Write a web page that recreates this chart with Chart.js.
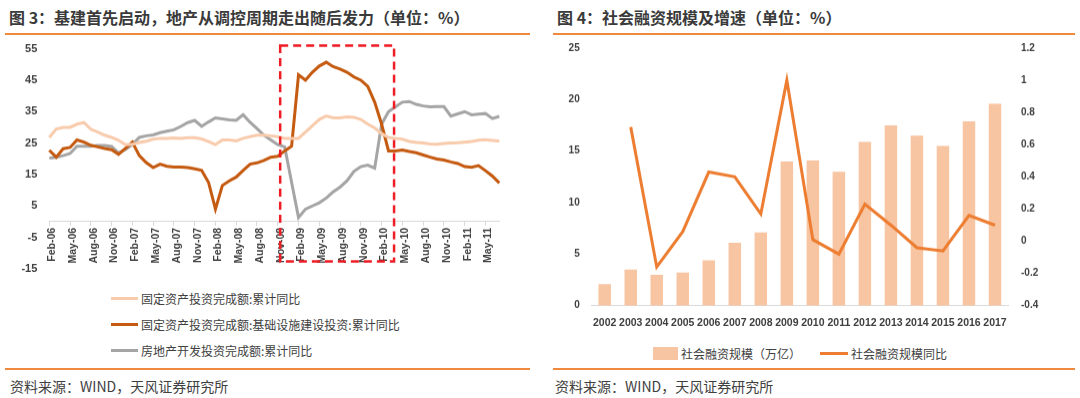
<!DOCTYPE html>
<html>
<head>
<meta charset="utf-8">
<script src="https://cdn.jsdelivr.net/npm/chart.js@4.4.0/dist/chart.umd.min.js"></script>
<style>
  body { margin: 0; width: 1080px; height: 398px; background: #fff; position: relative; overflow: hidden;
         font-family: "Noto Sans CJK SC", "Noto Sans", sans-serif; color: #404040; }
  .title { position: absolute; top: 5px; font-size: 16px; font-weight: bold; color: #3a3a3a; white-space: nowrap; }
  .rule { position: absolute; height: 2px; background: #f0883e; }
  .src { position: absolute; top: 376px; font-size: 14px; color: #404040; white-space: nowrap; }
  .box { position: absolute; }
  .leg { position: absolute; font-size: 12px; color: #404040; white-space: nowrap; display: flex; align-items: center; height: 16px; }
  .leg i { display: inline-block; margin-right: 3px; }
</style>
</head>
<body>
<div class="title" style="left:9px">图 3：基建首先启动，地产从调控周期走出随后发力（单位：%）</div>
<div class="title" style="left:557px">图 4：社会融资规模及增速（单位：%）</div>
<div class="rule" style="left:5px;width:525px;top:33px"></div>
<div class="rule" style="left:553px;width:522px;top:33px"></div>

<div class="box" style="left:0;top:30.4px;width:530px;height:256.5px"><canvas id="left"></canvas></div>
<div class="box" style="left:540px;top:29.3px;width:540px;height:305.7px"><canvas id="right"></canvas></div>

<div id="legLeft"></div>
<div id="legRight"></div>

<div class="rule" style="left:5px;width:525px;top:368px"></div>
<div class="rule" style="left:553px;width:522px;top:368px"></div>
<div class="src" style="left:10px">资料来源：WIND，天风证券研究所</div>
<div class="src" style="left:555px">资料来源：WIND，天风证券研究所</div>

<script>
// ---- Figure 3: monthly cumulative YoY, Feb-06 .. Jul-11 ----
const monthNames = ['Jan', 'Feb', 'Mar', 'Apr', 'May', 'Jun', 'Jul', 'Aug', 'Sep', 'Oct', 'Nov', 'Dec'];

const fixedAssetYoY = [
  26.8, 29.5, 30, 30, 31, 31.5, 29.4, 28.5, 27.5, 26.8, 25.9, 24.5,
  24.6, 25.2, 25.6, 26.2, 26.5, 26.5, 26.6, 26.5, 26.7, 26.7, 26.3, 25.5,
  24.5, 26, 26, 25.7, 26.5, 27, 27.5, 27.5, 27.3, 27, 26.5, 26.5,
  26.5, 28.5, 30.5, 32.5, 33.6, 33, 33, 33.3, 33.2, 32.5, 31, 29.8,
  28, 26.8, 26.5, 26.2, 25.5, 25.2, 25, 24.7, 24.6, 24.9, 25, 25.1,
  25.3, 25.5, 25.9, 26.1, 25.8, 25.7
];
const infraYoY = [
  22.7, 20.5, 23.2, 23.6, 26, 25.3, 24.3, 23.8, 23.3, 22.9, 21.4, 23.3,
  25.3, 21, 18.8, 17.2, 18.3, 17.6, 17.4, 17.4, 17.2, 16.8, 16.3, 12.5,
  4, 11.5, 13, 14.2, 16.3, 18.3, 18.7, 19.5, 20.5, 20.8, 22.5, 24,
  46.7, 45, 47.5, 49.5, 50.7, 49.3, 48.5, 47.5, 46, 45, 43, 38,
  31, 22.5, 22.5, 22.8, 22.3, 21.9, 21.2, 20.5, 19.9, 19.6, 19, 18.5,
  17.5, 17.3, 17.8, 16.2, 14.5, 12.3
];
const realEstateYoY = [
  20.2, 20.5, 21, 21.7, 24, 24, 24, 24.2, 24.2, 23.9, 21.8, 23,
  24.5, 26.8, 27.3, 27.6, 28.3, 28.8, 29.2, 30.3, 31.5, 32.2, 30.3, 31.7,
  33, 32.7, 32.4, 32.2, 34, 31.6, 29.6, 27.5, 26, 24.5, 23.8, 12.5,
  1.3, 4, 5, 6, 7.5, 9.5, 11, 13, 16, 17.5, 18, 17,
  31, 35, 36.5, 38, 38.2, 37.3, 36.8, 36.5, 36.6, 36.6, 33.6, 34.3,
  35, 34, 34.2, 34.4, 32.8, 33.5
];
const leftTicks = [-15, 55, 10]; // min, max, step

// ---- Figure 4: annual ----
const years = ['2002', '2003', '2004', '2005', '2006', '2007', '2008', '2009',
               '2010', '2011', '2012', '2013', '2014', '2015', '2016', '2017'];
const tsfScale = [2.1, 3.5, 3.0, 3.2, 4.4, 6.1, 7.1, 14.0, 14.1, 13.0, 15.9, 17.5, 16.5, 15.5, 17.9, 19.6];
const tsfGrowth = [null, 0.71, -0.16, 0.06, 0.43, 0.40, 0.17, 1.0, 0.01, -0.08, 0.23, 0.10, -0.04, -0.06, 0.16, 0.10];

// month labels Feb-06 onwards
const monthLabels = [];
for (let k = 0; k < fixedAssetYoY.length; k++) {
  const m = (1 + k) % 12;
  const y = 2006 + Math.floor((1 + k) / 12);
  monthLabels.push(monthNames[m] + '-' + String(y).slice(2));
}

Chart.defaults.font.family = '"Liberation Sans", Arial, sans-serif';
Chart.defaults.font.weight = 'bold';
Chart.defaults.color = '#404040';
Chart.defaults.animation = false;

const leftSeries = [
  { label: '固定资产投资完成额:累计同比', data: fixedAssetYoY, color: '#f8cbad' },
  { label: '固定资产投资完成额:基础设施建设投资:累计同比', data: infraYoY, color: '#c55a11' },
  { label: '房地产开发投资完成额:累计同比', data: realEstateYoY, color: '#a5a5a5' }
];

// red dashed frame around the 2009 stimulus period (in data units)
const frameBox = {
  id: 'frameBox',
  afterDraw(chart) {
    const { ctx, scales: { x, y } } = chart;
    const l = x.getPixelForValue(33.35), r = x.getPixelForValue(49.8);
    const t = y.getPixelForValue(56), b = y.getPixelForValue(-12.6);
    ctx.save();
    ctx.strokeStyle = '#ee1c25';
    ctx.lineWidth = 2.5;
    ctx.setLineDash([8, 5]);
    ctx.strokeRect(l, t, r - l, b - t);
    ctx.restore();
  }
};

new Chart(document.getElementById('left'), {
  type: 'line',
  data: {
    labels: monthLabels,
    datasets: leftSeries.map(s => ({
      label: s.label,
      data: s.data,
      borderColor: s.color,
      backgroundColor: s.color,
      borderWidth: 3,
      pointRadius: 0,
      tension: 0
    }))
  },
  options: {
    responsive: true,
    maintainAspectRatio: false,
    layout: { padding: { top: 0, bottom: 0, left: 9.3, right: 30.7 } },
    plugins: { legend: { display: false }, tooltip: { enabled: false } },
    scales: {
      x: {
        position: { y: 0 },
        offset: false,
        border: { display: true, color: '#d9d9d9', width: 1 },
        grid: { display: true, drawOnChartArea: false, drawTicks: true, tickLength: 4, color: '#d9d9d9' },
        ticks: {
          autoSkip: false, maxRotation: 90, minRotation: 90, padding: 2, labelOffset: 3,
          font: { size: 10.5 },
          callback: (v, i) => (i % 3 === 0 ? monthLabels[i] : null)
        }
      },
      y: {
        min: leftTicks[0], max: leftTicks[1],
        border: { display: false },
        grid: { display: false, drawTicks: false },
        ticks: { stepSize: leftTicks[2], padding: 12, font: { size: 11 } },
        afterFit: (s) => { s.width = 40; }
      }
    }
  },
  plugins: [frameBox]
});

// left legend (stacked)
const legLeft = document.getElementById('legLeft');
leftSeries.forEach((s, i) => {
  const d = document.createElement('div');
  d.className = 'leg';
  d.style.left = '111px';
  d.style.top = (290 + i * 26.4) + 'px';
  d.innerHTML = `<i style="width:27px;height:3px;background:${s.color}"></i>${s.label}`;
  legLeft.appendChild(d);
});

const barColor = '#f8c5a2';
const lineColor = '#ed7d31';

new Chart(document.getElementById('right'), {
  data: {
    labels: years,
    datasets: [
      { type: 'line', label: '社会融资规模同比', data: tsfGrowth, yAxisID: 'y1',
        borderColor: lineColor, backgroundColor: lineColor, borderWidth: 3, pointRadius: 0, tension: 0, order: 0 },
      { type: 'bar', label: '社会融资规模（万亿）', data: tsfScale, yAxisID: 'y',
        backgroundColor: barColor, categoryPercentage: 1, barPercentage: 0.48, order: 1 }
    ]
  },
  options: {
    responsive: true,
    maintainAspectRatio: false,
    layout: { padding: { top: 0, bottom: 0, left: 0, right: 22 } },
    plugins: { legend: { display: false }, tooltip: { enabled: false } },
    scales: {
      x: {
        border: { display: true, color: '#d9d9d9', width: 1 },
        grid: { display: false, drawTicks: false },
        ticks: { autoSkip: false, maxRotation: 0, padding: 11, font: { size: 10.5 } },
        afterFit: (s) => { s.height = 30; }
      },
      y: {
        position: 'left', min: 0, max: 25,
        border: { display: false },
        grid: { display: false, drawTicks: false },
        ticks: { stepSize: 5, padding: 12, font: { size: 10 } },
        afterFit: (s) => { s.width = 51.7; }
      },
      y1: {
        position: 'right', min: -0.4, max: 1.2,
        border: { display: false },
        grid: { display: false, drawTicks: false },
        ticks: { stepSize: 0.2, padding: 13, font: { size: 10 },
                 callback: (v) => String(parseFloat(v.toFixed(1))) },
        afterFit: (s) => { s.width = 50; }
      }
    }
  }
});

// right legend (one row)
document.getElementById('legRight').innerHTML =
  `<div class="leg" style="left:653px;top:345px"><i style="width:25px;height:13px;background:${barColor}"></i>社会融资规模（万亿）</div>` +
  `<div class="leg" style="left:820px;top:345px"><i style="width:28px;height:3px;background:${lineColor}"></i>社会融资规模同比</div>`;
</script>
</body>
</html>
